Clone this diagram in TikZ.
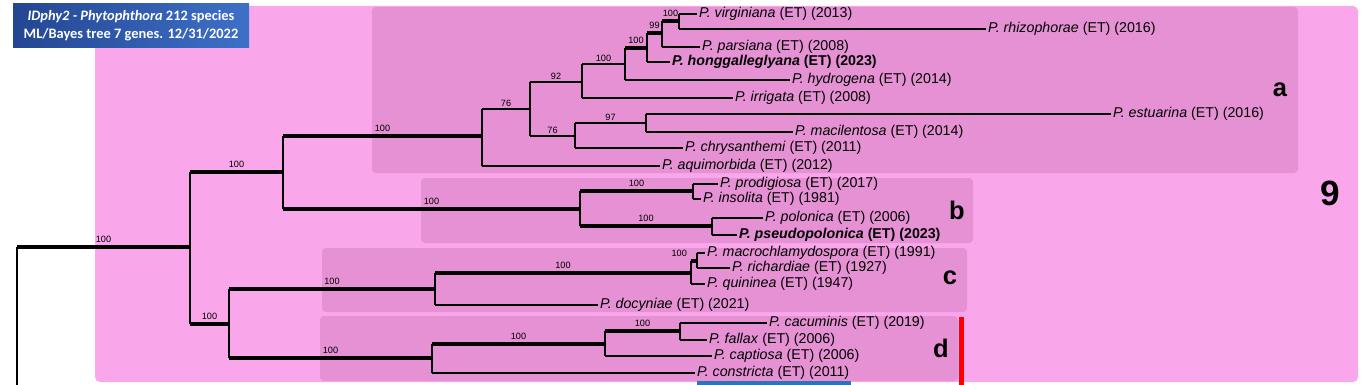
\documentclass[tikz,border=0pt]{standalone}
\usepackage{fontspec}
\setmainfont{Liberation Sans}
\newfontfamily\titlefont{Carlito}
\usepackage{tikz}
\usetikzlibrary{positioning, calc}
\definecolor{pkOuter}{RGB}{249,166,235}
\definecolor{pkInner}{RGB}{229,145,212}
\definecolor{ttBlueA}{RGB}{36,70,146}
\definecolor{ttBlueB}{RGB}{62,112,200}
\definecolor{mkRed}{RGB}{255,0,0}
\definecolor{mkBlue}{RGB}{46,117,182}
\tikzset{
    branch/.style={
        line width=0.8pt,
        black
    },
    strong/.style={
        line width=2.3pt,
        black
    },
    support/.style={
        font=\fontsize{5.2}{6}\selectfont,
        midway,
        above,
        inner sep=1.2pt
    },
    taxon/.style={
        anchor=west,
        inner sep=1pt,
        font=\fontsize{8.1}{9.5}\selectfont
    },
    cladebox/.style={
        fill=pkInner,
        rounded corners=0.08cm
    },
    cladeletter/.style={
        font=\fontsize{14.5}{16}\selectfont\bfseries
    }
}

\begin{document}
\begin{tikzpicture}[x=0.02cm, y=-0.02cm]
  \useasboundingbox (0,0) rectangle (1362,385);

  % Clade boxes
  \fill[pkOuter, rounded corners=0.1cm] (95,6) rectangle (1358,382);
  \fill[cladebox] (372,7) rectangle (1298,173);
  \fill[cladebox] (421,178) rectangle (973,243);
  \fill[cladebox] (322,248) rectangle (967,312);
  \fill[cladebox] (320,316) rectangle (958,381);

  % Title
  \fill[left color=ttBlueA, right color=ttBlueB] (13,4) rectangle (249,48);
  \node[text=white, align=center, font=\titlefont\bfseries\fontsize{8.2}{10.2}\selectfont] (title) at (131,26)
      {\textit{IDphy2 - Phytophthora} 212 species\\ML/Bayes tree 7 genes. 12/31/2022};

  % Internal nodes
  \coordinate (root) at (17,247);
  \coordinate (rootend) at (17,385);
  \coordinate (n1) at (190,247);
  \coordinate (nab) at (283,172);
  \coordinate (a0) at (482,136);
  \coordinate (a1) at (530,109);
  \coordinate (a2) at (582,82);
  \coordinate (a5) at (625,64);
  \coordinate (a6) at (647,48);
  \coordinate (a7) at (662,33);
  \coordinate (a8) at (679,21);
  \coordinate (a3) at (575,136);
  \coordinate (a4) at (646,123);
  \coordinate (b0) at (580,209);
  \coordinate (b1) at (693,191);
  \coordinate (b2) at (712,226);
  \coordinate (ncd) at (229,324);
  \coordinate (c0) at (435,289);
  \coordinate (c1) at (691,273);
  \coordinate (c2) at (697,261);
  \coordinate (d0) at (432,358);
  \coordinate (d1) at (605,344);
  \coordinate (d2) at (680,331);

  % Taxa
  \node[taxon] (virg) at (697,14) {\textit{P. virginiana} (ET) (2013)};
  \node[taxon] (rhiz) at (986,29) {\textit{P. rhizophorae} (ET) (2016)};
  \node[taxon] (pars) at (700,47) {\textit{P. parsiana} (ET) (2008)};
  \node[taxon] (hong) at (670,62) {\textbf{\textit{P. honggalleglyana} (ET) (2023)}};
  \node[taxon] (hydr) at (790,80) {\textit{P. hydrogena} (ET) (2014)};
  \node[taxon] (irri) at (733,98) {\textit{P. irrigata} (ET) (2008)};
  \node[taxon] (estu) at (1111,114) {\textit{P. estuarina} (ET) (2016)};
  \node[taxon] (maci) at (793,132) {\textit{P. macilentosa} (ET) (2014)};
  \node[taxon] (chry) at (683,148) {\textit{P. chrysanthemi} (ET) (2011)};
  \node[taxon] (aqui) at (660,166) {\textit{P. aquimorbida} (ET) (2012)};
  \node[taxon] (prod) at (718,184) {\textit{P. prodigiosa} (ET) (2017)};
  \node[taxon] (inso) at (701,199) {\textit{P. insolita} (ET) (1981)};
  \node[taxon] (polo) at (763,218) {\textit{P. polonica} (ET) (2006)};
  \node[taxon] (pseu) at (737,235) {\textbf{\textit{P. pseudopolonica} (ET) (2023)}};
  \node[taxon] (macr) at (705,253) {\textit{P. macrochlamydospora} (ET) (1991)};
  \node[taxon] (rich) at (730,268) {\textit{P. richardiae} (ET) (1927)};
  \node[taxon] (quin) at (705,284) {\textit{P. quininea} (ET) (1947)};
  \node[taxon] (docy) at (598,305) {\textit{P. docyniae} (ET) (2021)};
  \node[taxon] (cacu) at (767,323) {\textit{P. cacuminis} (ET) (2019)};
  \node[taxon] (fall) at (707,340) {\textit{P. fallax} (ET) (2006)};
  \node[taxon] (capt) at (712,356) {\textit{P. captiosa} (ET) (2006)};
  \node[taxon] (cons) at (695,373) {\textit{P. constricta} (ET) (2011)};

  % Backbone
  \draw[branch] (root) -- (rootend);
  \draw[strong] (root) -- node[support] {100} (n1);
  \draw[branch] (n1 |- nab) -- (n1 |- ncd);
  \draw[strong] (n1 |- nab) -- node[support] {100} (nab);
  \draw[strong] (n1 |- ncd) -- node[support] {100} (ncd);
  \draw[branch] (nab |- a0) -- (nab |- b0);
  \draw[strong] (nab |- a0) -- node[support] {100} (a0);
  \draw[strong] (nab |- b0) -- node[support] {100} (b0);

  % Clade a
  \draw[branch] (a0 |- a1) -- (a0 |- aqui.west);
  \draw[branch] (a0 |- a1) -- node[support] {76} (a1);
  \draw[branch] (a0 |- aqui.west) -- (aqui.west);
  \draw[branch] (a1 |- a2) -- (a1 |- a3);
  \draw[branch] (a1 |- a2) -- node[support] {92} (a2);
  \draw[branch] (a1 |- a3) -- node[support] {76} (a3);
  \draw[branch] (a2 |- a5) -- (a2 |- irri.west);
  \draw[branch] (a2 |- a5) -- node[support] {100} (a5);
  \draw[branch] (a2 |- irri.west) -- (irri.west);
  \draw[branch] (a5 |- a6) -- (a5 |- hydr.west);
  \draw[strong] (a5 |- a6) -- node[support] {100} (a6);
  \draw[branch] (a5 |- hydr.west) -- (hydr.west);
  \draw[branch] (a6 |- a7) -- (a6 |- hong.west);
  \draw[strong] (a6 |- a7) -- node[support] {99} (a7);
  \draw[branch] (a6 |- hong.west) -- (hong.west);
  \draw[branch] (a7 |- a8) -- (a7 |- pars.west);
  \draw[strong] (a7 |- a8) -- node[support] {100} (a8);
  \draw[branch] (a7 |- pars.west) -- (pars.west);
  \draw[branch] (a8 |- virg.west) -- (a8 |- rhiz.west);
  \draw[branch] (a8 |- virg.west) -- (virg.west);
  \draw[branch] (a8 |- rhiz.west) -- (rhiz.west);
  \draw[branch] (a3 |- a4) -- (a3 |- chry.west);
  \draw[branch] (a3 |- a4) -- node[support] {97} (a4);
  \draw[branch] (a3 |- chry.west) -- (chry.west);
  \draw[branch] (a4 |- estu.west) -- (a4 |- maci.west);
  \draw[branch] (a4 |- estu.west) -- (estu.west);
  \draw[branch] (a4 |- maci.west) -- (maci.west);

  % Clade b
  \draw[branch] (b0 |- b1) -- (b0 |- b2);
  \draw[strong] (b0 |- b1) -- node[support] {100} (b1);
  \draw[strong] (b0 |- b2) -- node[support] {100} (b2);
  \draw[branch] (b1 |- prod.west) -- (b1 |- inso.west);
  \draw[branch] (b1 |- prod.west) -- (prod.west);
  \draw[branch] (b1 |- inso.west) -- (inso.west);
  \draw[branch] (b2 |- polo.west) -- (b2 |- pseu.west);
  \draw[branch] (b2 |- polo.west) -- (polo.west);
  \draw[branch] (b2 |- pseu.west) -- (pseu.west);

  % Clades c and d
  \draw[branch] (ncd |- c0) -- (ncd |- d0);
  \draw[strong] (ncd |- c0) -- node[support] {100} (c0);
  \draw[strong] (ncd |- d0) -- node[support] {100} (d0);
  \draw[branch] (c0 |- c1) -- (c0 |- docy.west);
  \draw[strong] (c0 |- c1) -- node[support] {100} (c1);
  \draw[branch] (c0 |- docy.west) -- (docy.west);
  \draw[branch] (c1 |- c2) -- (c1 |- quin.west);
  \draw[strong] (c1 |- c2) -- node[support, pos=0, anchor=south east] {100} (c2);
  \draw[branch] (c1 |- quin.west) -- (quin.west);
  \draw[branch] (c2 |- macr.west) -- (c2 |- rich.west);
  \draw[branch] (c2 |- macr.west) -- (macr.west);
  \draw[branch] (c2 |- rich.west) -- (rich.west);
  \draw[branch] (d0 |- d1) -- (d0 |- cons.west);
  \draw[strong] (d0 |- d1) -- node[support] {100} (d1);
  \draw[branch] (d0 |- cons.west) -- (cons.west);
  \draw[branch] (d1 |- d2) -- (d1 |- capt.west);
  \draw[strong] (d1 |- d2) -- node[support] {100} (d2);
  \draw[branch] (d1 |- capt.west) -- (capt.west);
  \draw[branch] (d2 |- cacu.west) -- (d2 |- fall.west);
  \draw[branch] (d2 |- cacu.west) -- (cacu.west);
  \draw[branch] (d2 |- fall.west) -- (fall.west);

  % Clade letters
  \node[cladeletter] (cla) at (1280,90) {a};
  \node[cladeletter] (clb) at (957,210) {b};
  \node[cladeletter] (clc) at (950,278) {c};
  \node[cladeletter] (cld) at (941,348) {d};
  \node[font=\fontsize{20}{22}\selectfont\bfseries] (cl9) at (1330,193) {9};

  % Marks
  \fill[mkRed] (959,317) rectangle (964,385);
  \fill[mkBlue] (697,381) rectangle (851,385);
\end{tikzpicture}
\end{document}
